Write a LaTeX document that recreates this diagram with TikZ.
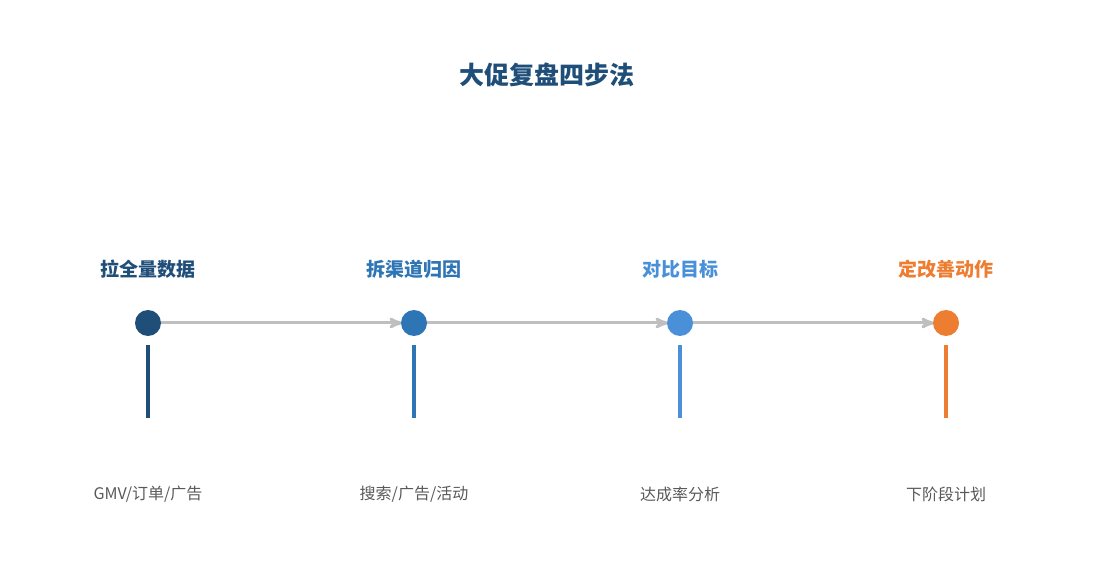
\documentclass[tikz,border=0pt]{standalone}
\usepackage{fontspec}
\setmainfont{Noto Sans CJK SC}
\usetikzlibrary{arrows, positioning, calc}
\definecolor{stepA}{HTML}{1F4E79}
\definecolor{stepB}{HTML}{2E75B6}
\definecolor{stepC}{HTML}{4A90D9}
\definecolor{stepD}{HTML}{ED7D31}
\definecolor{flowgray}{HTML}{BFBFBF}
\definecolor{notegray}{HTML}{595959}
\tikzset{
  dot/.style = {circle, inner sep=0pt, minimum size=26pt},
  head/.style = {font=\fontsize{19}{22}\selectfont\bfseries, inner sep=0pt},
  note/.style = {font=\fontsize{16}{19}\selectfont, text=notegray, inner sep=0pt},
  flow/.style = {flowgray, line width=3pt, ->, >=stealth'},
  stem/.style = {line width=4pt}
}

\begin{document}
\begin{tikzpicture}[x=1pt,y=-1pt]
  \useasboundingbox (0,0) rectangle (1095,585);
  \node [font=\fontsize{25}{30}\selectfont\bfseries, text=stepA] (title) at (547,75) {大促复盘四步法};
  % connectors first, dots on top
  \coordinate (p1) at (148,323);
  \coordinate (p2) at (414,323);
  \coordinate (p3) at (680,323);
  \coordinate (p4) at (946,323);
  \draw [flow] ($(p1)+(13,0)$) -- ($(p2)+(-12,0)$);
  \draw [flow] ($(p2)+(13,0)$) -- ($(p3)+(-12,0)$);
  \draw [flow] ($(p3)+(13,0)$) -- ($(p4)+(-12,0)$);
  \foreach \p/\c/\h/\t [count=\i] in {p1/stepA/拉全量数据/GMV\slash 订单\slash 广告,
      p2/stepB/拆渠道归因/搜索\slash 广告\slash 活动,
      p3/stepC/对比目标/达成率分析,
      p4/stepD/定改善动作/下阶段计划}{
    \node [dot, fill=\c] (dot\i) at (\p) {};
    \node [head, text=\c] (head\i) at ($(\p)+(0,-54)$) {\h};
    \coordinate (top\i) at ($(\p)+(0,22)$);
    \coordinate (bot\i) at ($(\p)+(0,95)$);
    \draw [stem, \c] (top\i) -- (bot\i);
    \node [note] (note\i) at ($(\p)+(0,171)$) {\t};
  }
\end{tikzpicture}
\end{document}
